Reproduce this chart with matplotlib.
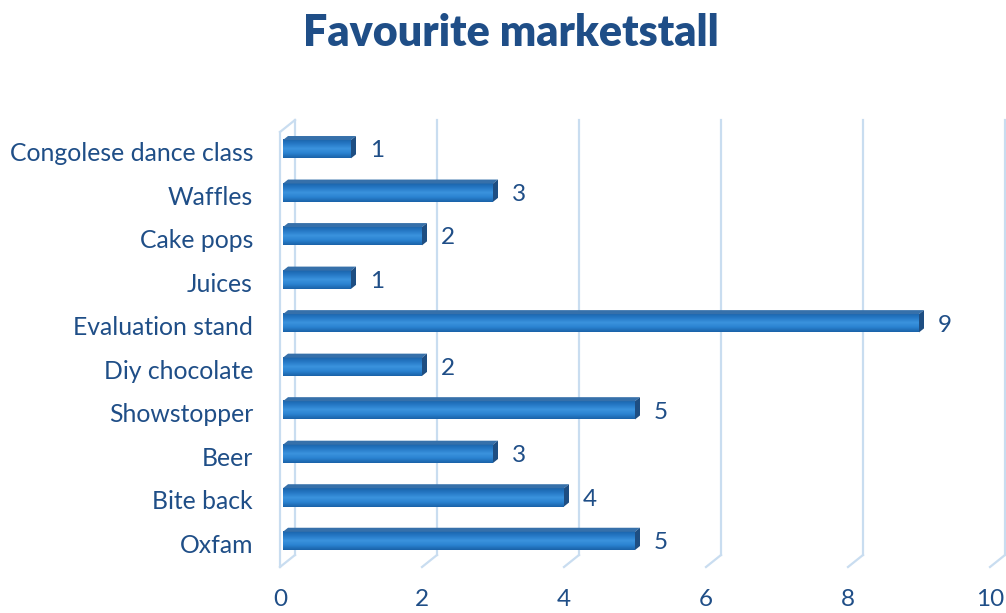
import matplotlib
matplotlib.use('agg')
import matplotlib.pyplot as plt
import numpy as np
from matplotlib.colors import LinearSegmentedColormap
from matplotlib.patches import Polygon

stalls = ['Oxfam', 'Bite back', 'Beer', 'Showstopper', 'Diy chocolate',
          'Evaluation stand', 'Juices', 'Cake pops', 'Waffles',
          'Congolese dance class']
votes = [5, 4, 3, 5, 2, 9, 1, 2, 3, 1]
xticks = [0, 2, 4, 6, 8, 10]

navy = '#1f4e87'
grid_col = '#c9ddf0'
font = ['Lato', 'DejaVu Sans']

fig = plt.figure(figsize=(10.06, 6.13), dpi=100)
ax = fig.add_axes([280 / 1006, 1 - 567 / 613, 710 / 1006, 447 / 613])
ax.set_xlim(0, 10)
ax.set_ylim(-0.6, 9.67)
ax.axis('off')

# pixel -> data scale, used for the fake 3D depth
px_x = 710 / 10.0
px_y = 447 / 10.27

# back wall: gridlines pushed up/right, joined to the front by short diagonals
wall_dx = 15 / px_x
wall_dy = 12 / px_y
y_floor = -0.6
for t in xticks:
    ax.plot([t + wall_dx, t + wall_dx], [y_floor + wall_dy, 9.67],
            color=grid_col, lw=1.6, zorder=1, clip_on=False)
    ax.plot([t, t + wall_dx], [y_floor, y_floor + wall_dy],
            color=grid_col, lw=1.6, zorder=1, clip_on=False)
# left side wall edge
ax.plot([0, 0], [y_floor, 9.67 - wall_dy], color=grid_col, lw=1.6,
        zorder=1, clip_on=False)
ax.plot([0, wall_dx], [9.67 - wall_dy, 9.67], color=grid_col, lw=1.6,
        zorder=1, clip_on=False)

# bars with a vertical shading and a small top / end face
cmap = LinearSegmentedColormap.from_list(
    'bar', ['#1a62a8', '#2a82d0', '#3b93de', '#2679c6', '#1a64ab'])
grad = np.linspace(0, 1, 64).reshape(-1, 1)
h = 0.42
dx = 5 / px_x
dy = 4 / px_y
x0 = 3 / px_x
for i, v in enumerate(votes):
    y0, y1 = i - h / 2, i + h / 2
    ax.imshow(grad, cmap=cmap, aspect='auto', extent=(x0, v, y1, y0),
              zorder=3, interpolation='bilinear')
    top = Polygon([(x0, y1), (v, y1), (v + dx, y1 + dy), (x0 + dx, y1 + dy)],
                  closed=True, facecolor='#3670aa', edgecolor='none', zorder=3)
    end = Polygon([(v, y0), (v, y1), (v + dx, y1 + dy), (v + dx, y0 + dy)],
                  closed=True, facecolor='#1e4e82', edgecolor='none', zorder=3)
    ax.add_patch(top)
    ax.add_patch(end)
    ax.text(v + dx + 14 / px_x, i - 0.04, str(v), ha='left', va='center',
            fontsize=17.5, color=navy, family=font, zorder=4)

ax.set_xlim(0, 10)
ax.set_ylim(-0.6, 9.67)

for i, name in enumerate(stalls):
    ax.text(-27 / px_x, i - 0.1, name, ha='right', va='center',
            fontsize=17.8, color=navy, family=font, clip_on=False)

for t in xticks:
    ax.text(t, y_floor - 33 / px_y, str(t), ha='center', va='center',
            fontsize=17.5, color=navy, family=font, clip_on=False)

fig.text(511 / 1006, 1 - 33 / 613, 'Favourite marketstall', ha='center',
         va='center', fontsize=31, fontweight='heavy', color=navy, family=font)

fig.savefig('out.png', dpi=100)
